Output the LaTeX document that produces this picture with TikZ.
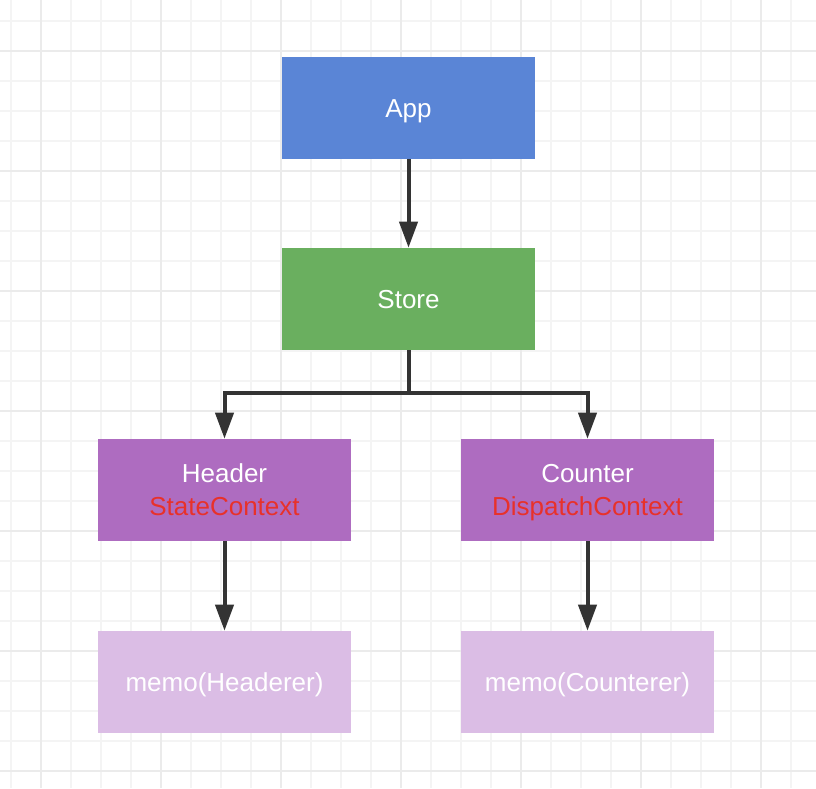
\documentclass[tikz,border=0pt]{standalone}
\usepackage{fontspec}
\setmainfont{Liberation Sans}
\usetikzlibrary{arrows.meta}

\definecolor{appblue}{HTML}{5A85D6}
\definecolor{storegreen}{HTML}{6AAF5F}
\definecolor{compviolet}{HTML}{AE6CC0}
\definecolor{memoviolet}{HTML}{DBBDE5}
\definecolor{ctxred}{HTML}{E8312A}
\definecolor{arrowgray}{HTML}{333333}
\definecolor{gridminor}{HTML}{F4F4F4}
\definecolor{gridmajor}{HTML}{EBEBEB}

\newcommand{\capstrut}{\rule[-5.4pt]{0pt}{24.75pt}}

\tikzset{
  box/.style={minimum width=189.75pt,minimum height=76.5pt,inner sep=0pt,
    text=white,align=center,font=\fontsize{19.5pt}{24.75pt}\selectfont},
  link/.style={draw=arrowgray,line width=3pt,
    -{Triangle[length=19.5pt,width=13.5pt]}}
}

\begin{document}
\begin{tikzpicture}[x=0.75pt,y=-0.75pt]

\useasboundingbox (0,0) rectangle (816,788);
\clip (0,0) rectangle (816,788);

% grid
\foreach \gx in {11,41,...,791}
  \draw[gridminor,line width=1.5pt] (\gx,0) -- (\gx,788);
\foreach \gy in {21,51,...,771}
  \draw[gridminor,line width=1.5pt] (0,\gy) -- (816,\gy);
\foreach \gx in {41,161,...,761}
  \draw[gridmajor,line width=1.5pt] (\gx,0) -- (\gx,788);
\foreach \gy in {51,171,...,771}
  \draw[gridmajor,line width=1.5pt] (0,\gy) -- (816,\gy);

\node (app) at (408.5,108) [box,fill=appblue] {\capstrut App};
\node (store) at (408.5,299) [box,fill=storegreen] {\capstrut Store};
\node (header) at (224.5,490) [box,fill=compviolet] {\capstrut Header\\\capstrut\textcolor{ctxred}{StateContext}};
\node (counter) at (587.5,490) [box,fill=compviolet] {\capstrut Counter\\\capstrut\textcolor{ctxred}{DispatchContext}};
\node (memoh) at (224.5,682) [box,fill=memoviolet] {\capstrut memo(Headerer)};
\node (memoc) at (587.5,682) [box,fill=memoviolet] {\capstrut memo(Counterer)};

\coordinate (fork) at (408.5,393);

\draw[link] (app) -- (store);
\draw[link] (store) -- (fork) -| (header);
\draw[link] (fork) -| (counter);
\draw[link] (header) -- (memoh);
\draw[link] (counter) -- (memoc);

\end{tikzpicture}
\end{document}
